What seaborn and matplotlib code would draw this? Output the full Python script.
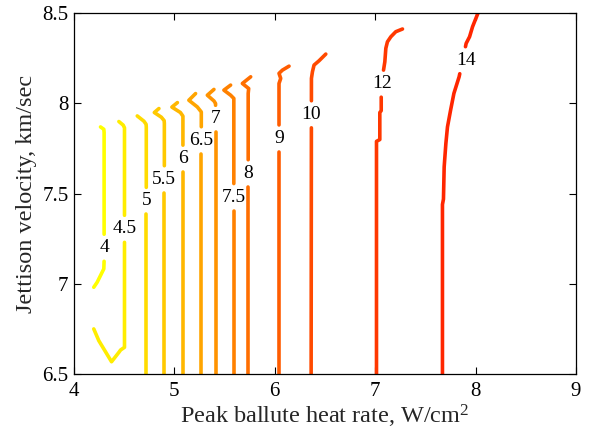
import numpy as np
import pandas as pd
import matplotlib
matplotlib.use("Agg")
import matplotlib.pyplot as plt
import seaborn as sns

# Contour levels of the tabulated quantity
levels = [4, 4.5, 5, 5.5, 6, 6.5, 7, 7.5, 8, 9, 10, 12, 14]
level_text = ["4", "4.5", "5", "5.5", "6", "6.5", "7", "7.5", "8", "9", "10", "12", "14"]

# Contour paths: peak ballute heat rate (W/cm^2) vs jettison velocity (km/s), traced top to bottom
x_4 = [4.264, 4.297, 4.300, 4.300, 4.297, 4.264, 4.231, 4.197]
y_4 = [7.870, 7.857, 7.840, 7.130, 7.083, 7.046, 7.009, 6.981]
x_45 = [4.447, 4.490, 4.503, 4.503, 4.464, 4.447, 4.374, 4.297, 4.247, 4.197]
y_45 = [7.900, 7.880, 7.865, 6.648, 6.633, 6.620, 6.568, 6.639, 6.685, 6.750]
x_5 = [4.630, 4.696, 4.718, 4.720, 4.720]
y_5 = [7.931, 7.902, 7.885, 7.870, 6.500]
x_55 = [4.846, 4.800, 4.870, 4.898, 4.900, 4.900]
y_55 = [7.972, 7.950, 7.924, 7.905, 7.890, 6.500]
x_6 = [5.030, 4.975, 5.060, 5.085, 5.085]
y_6 = [8.005, 7.980, 7.950, 7.930, 6.500]
x_65 = [5.211, 5.144, 5.228, 5.268, 5.268]
y_65 = [8.055, 8.018, 7.981, 7.953, 6.500]
x_7 = [5.394, 5.328, 5.394, 5.410, 5.410]
y_7 = [8.078, 8.046, 8.014, 8.000, 6.500]
x_75 = [5.560, 5.493, 5.560, 5.592, 5.592]
y_75 = [8.102, 8.074, 8.046, 8.028, 6.500]
x_8 = [5.760, 5.677, 5.740, 5.735, 5.735]
y_8 = [8.148, 8.111, 8.083, 8.056, 6.500]
x_9 = [6.142, 6.076, 6.042, 6.059, 6.042, 6.042]
y_9 = [8.207, 8.185, 8.167, 8.139, 8.111, 6.500]
x_10 = [6.508, 6.441, 6.391, 6.375, 6.365, 6.362]
y_10 = [8.274, 8.237, 8.213, 8.176, 8.139, 6.500]
x_12 = [7.272, 7.205, 7.156, 7.122, 7.106, 7.096, 7.083, 7.060, 7.060, 7.046, 7.046, 7.013, 7.013]
y_12 = [8.413, 8.398, 8.370, 8.342, 8.306, 8.231, 8.185, 8.040, 7.960, 7.950, 7.800, 7.790, 6.500]
x_14 = [8.036, 7.970, 7.940, 7.906, 7.836, 7.784, 7.751, 7.720, 7.704, 7.687, 7.680, 7.670, 7.670]
y_14 = [8.518, 8.426, 8.370, 8.333, 8.148, 8.056, 7.963, 7.870, 7.778, 7.648, 7.470, 7.440, 6.500]

paths_x = [x_4, x_45, x_5, x_55, x_6, x_65, x_7, x_75, x_8, x_9, x_10, x_12, x_14]
paths_y = [y_4, y_45, y_5, y_55, y_6, y_65, y_7, y_75, y_8, y_9, y_10, y_12, y_14]

# Inline label anchor for each contour
label_x = [4.300, 4.503, 4.720, 4.900, 5.085, 5.268, 5.410, 5.592, 5.735, 6.042, 6.362, 7.070, 7.900]
label_y = [7.200, 7.305, 7.460, 7.580, 7.694, 7.796, 7.915, 7.481, 7.613, 7.806, 7.940, 8.110, 8.240]
LABEL_HALF_GAP = 0.075


def cut_gap(xs, ys, yc, half):
    """Split a polyline into pieces, leaving out the band yc +/- half around a label."""
    lo, hi = yc - half, yc + half
    pieces, cur = [], []
    pts = list(zip(xs, ys))
    for i, (x, y) in enumerate(pts):
        if i > 0:
            xp, yp = pts[i - 1]
            ts = []
            for b in (lo, hi):
                if (yp - b) * (y - b) < 0:
                    ts.append((b - yp) / (y - yp))
            for t in sorted(ts):
                bx, by = xp + t * (x - xp), yp + t * (y - yp)
                if cur:
                    cur.append((bx, by))
                    pieces.append(cur)
                    cur = []
                else:
                    cur = [(bx, by)]
        if not (lo < y < hi):
            cur.append((x, y))
    if cur:
        pieces.append(cur)
    return pieces


rows = []
seg_id = 0
for name, xs, ys, ly in zip(level_text, paths_x, paths_y, label_y):
    for piece in cut_gap(xs, ys, ly, LABEL_HALF_GAP):
        for k, (px, py) in enumerate(piece):
            rows.append({"level": name, "seg": seg_id, "order": k, "x": px, "y": py})
        seg_id += 1
df = pd.DataFrame(rows)

# Yellow-to-red ramp ("autumn" colormap, reversed)
autumn = matplotlib.colormaps["autumn"]
n = len(levels)
palette = {name: autumn(1 - 0.85 * i / (n - 1)) for i, name in enumerate(level_text)}

sns.set_style("ticks")
plt.rcParams["font.family"] = ["Liberation Serif", "DejaVu Serif"]
plt.rcParams["mathtext.fontset"] = "custom"
plt.rcParams["mathtext.rm"] = "Liberation Serif"
plt.rcParams["mathtext.it"] = "Liberation Serif:italic"

fig = plt.figure(figsize=(5.91, 4.38), dpi=100)
ax = fig.add_axes([0.1252, 0.1461, 0.8494, 0.8235])

sns.lineplot(data=df, x="x", y="y", hue="level", hue_order=level_text, units="seg",
             estimator=None, sort=False, palette=palette, legend=False,
             linewidth=2.6, ax=ax)

for name, lx, ly in zip(level_text, label_x, label_y):
    ax.text(lx, ly, name, ha="center", va="center", fontsize=14, color="black")

x_ticks = [4, 5, 6, 7, 8, 9]
x_tick_labels = ["4", "5", "6", "7", "8", "9"]
y_ticks = [6.5, 7.0, 7.5, 8.0, 8.5]
y_tick_labels = ["6.5", "7", "7.5", "8", "8.5"]

ax.set_xlim(4, 9)
ax.set_ylim(6.5, 8.5)
ax.set_xticks(x_ticks)
ax.set_xticklabels(x_tick_labels)
ax.set_yticks(y_ticks)
ax.set_yticklabels(y_tick_labels)
ax.tick_params(direction="in", top=True, right=True, length=5, width=0.8,
               labelsize=15, pad=4, colors="black")
ax.tick_params(axis="x", pad=6)
for sp in ax.spines.values():
    sp.set_visible(True)
    sp.set_linewidth(0.9)
    sp.set_color("black")

ax.set_xlabel("Peak ballute heat rate, W/cm$^2$", fontsize=17.5, labelpad=1)
ax.set_ylabel("Jettison velocity, km/sec", fontsize=17.5, labelpad=4)

fig.savefig("out.png", dpi=100)
